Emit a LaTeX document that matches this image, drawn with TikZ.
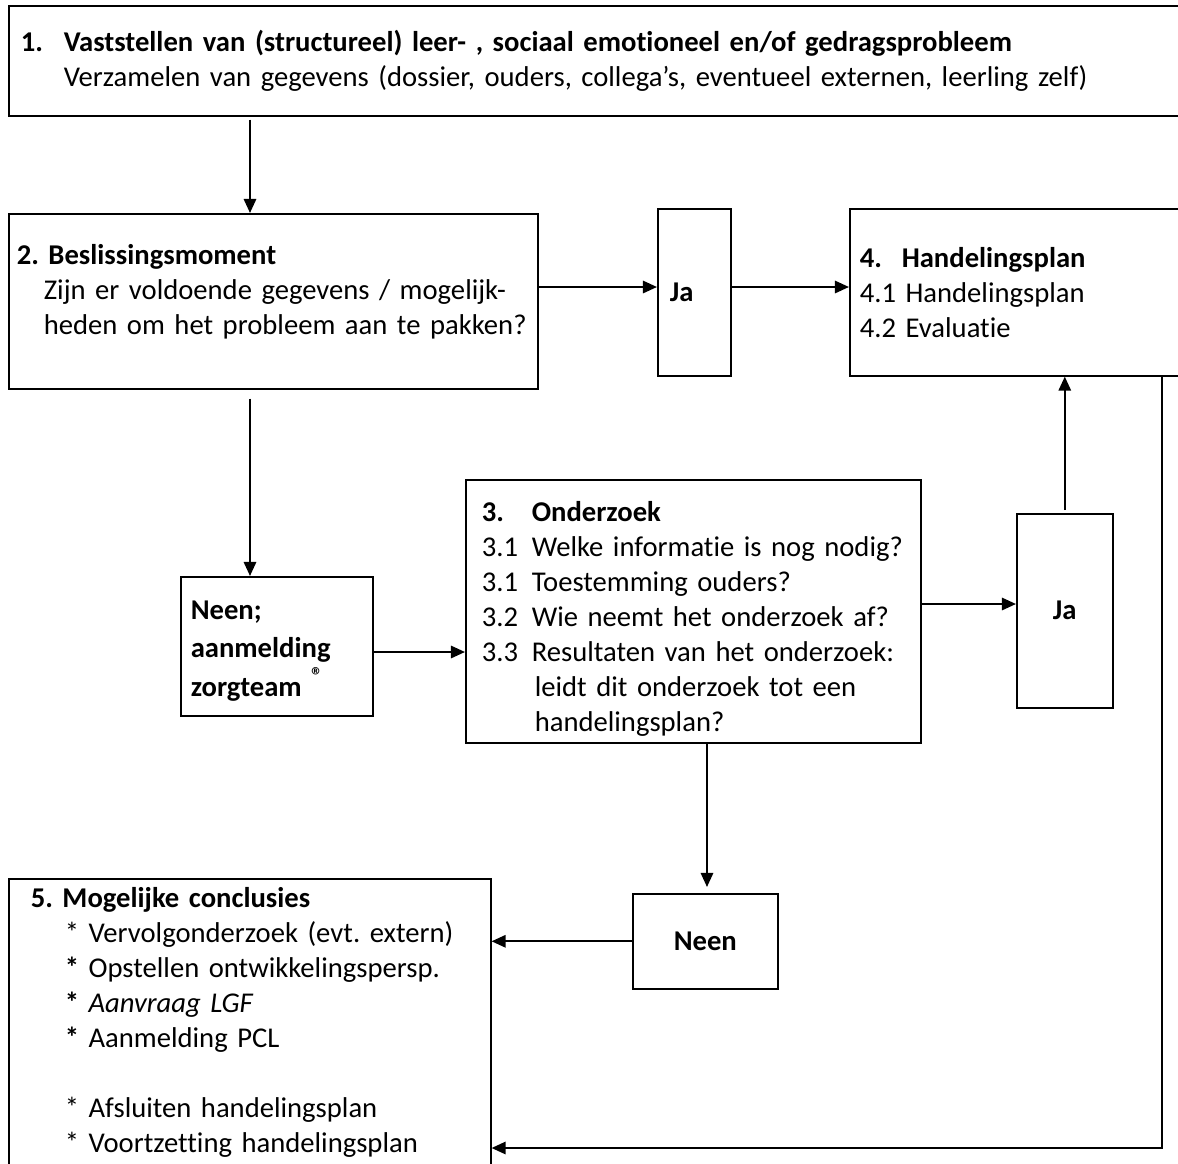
\documentclass[tikz,border=0pt]{standalone}
\usepackage{fontspec}
\setmainfont{Carlito}[Ligatures=NoCommon]
\usetikzlibrary{arrows.meta,positioning,calc}
\newlength\pxu
\setlength\pxu{0.02cm}
\newcommand{\flowfont}{\fontsize{16.3}{19.9}\selectfont\frenchspacing}
\tikzset{
  flow/base/.style={draw=black, line width=0.9pt, anchor=north west,
    inner ysep=0pt, font=\flowfont, align=left},
  flow/box/.style={flow/base},
  flow/answer/.style={flow/base, font=\flowfont\bfseries},
  flow/arrow/.style={-{Triangle[length=8pt,width=7pt]}, draw=black,
    line width=1.2pt},
}

\begin{document}
\begin{tikzpicture}[x=0.02cm, y=-0.02cm]
\useasboundingbox (0,0) rectangle (1178,1164);
\clip (0,0) rectangle (1178,1164);

% boxes, placed by their top left corner (pixel grid, y down)
\node[flow/box, minimum width=1192\pxu, minimum height=110\pxu,
  inner xsep=12\pxu, text width=1168\pxu] (vaststellen) at (8,5)
  {\mbox{\textbf{\makebox[43\pxu][l]{1.}Vaststellen van (structureel) leer- , sociaal emotioneel en/of gedragsprobleem}}\\
   \mbox{\hspace*{43\pxu}Verzamelen van gegevens (dossier, ouders, collega’s, eventueel externen, leerling zelf)}};

\node[flow/box, minimum width=529\pxu, minimum height=175\pxu,
  inner xsep=8\pxu, text width=513\pxu] (beslissing) at (8,213)
  {\mbox{\textbf{2. Beslissingsmoment}}\\
   \mbox{\hspace*{27\pxu}Zijn er voldoende gegevens / mogelijk-}\\
   \mbox{\hspace*{27\pxu}heden om het probleem aan te pakken?\rule[-23\pxu]{0pt}{23\pxu}}};

\node[flow/answer, minimum width=73\pxu, minimum height=167\pxu,
  inner xsep=12\pxu, text width=49\pxu] (jaEen) at (657,208) {Ja};

\node[flow/box, minimum width=351\pxu, minimum height=167\pxu,
  inner xsep=10\pxu, text width=331\pxu] (handeling) at (849,208)
  {\mbox{\textbf{\makebox[42\pxu][l]{4.}Handelingsplan}}\\
   \mbox{4.1 Handelingsplan}\\
   \mbox{4.2 Evaluatie}};

\node[flow/answer, minimum width=192\pxu, minimum height=139\pxu,
  inner xsep=10\pxu, text width=172\pxu,
  font=\fontsize{16.3}{21.9}\selectfont\bfseries] (aanmelding) at (180,576)
  {\rule{0pt}{28\pxu}Neen;\\aanmelding\\\mbox{zorgteam \raisebox{0.45em}{\fontsize{13}{13}\selectfont ®}}};

\node[flow/box, minimum width=455\pxu, minimum height=263\pxu,
  inner xsep=10\pxu, text width=435\pxu] (onderzoek) at (465,479)
  {\mbox{\hspace*{6\pxu}\rule{0pt}{36\pxu}\textbf{\makebox[50\pxu][l]{3.}Onderzoek}}\\
   \mbox{\hspace*{6\pxu}\makebox[50\pxu][l]{3.1}Welke informatie is nog nodig?}\\
   \mbox{\hspace*{6\pxu}\makebox[50\pxu][l]{3.1}Toestemming ouders?}\\
   \mbox{\hspace*{6\pxu}\makebox[50\pxu][l]{3.2}Wie neemt het onderzoek af?}\\
   \mbox{\hspace*{6\pxu}\makebox[50\pxu][l]{3.3}Resultaten van het onderzoek:}\\
   \mbox{\hspace*{59\pxu}leidt dit onderzoek tot een}\\
   \mbox{\hspace*{59\pxu}handelingsplan?}};

\node[flow/answer, minimum width=96\pxu, minimum height=194\pxu] (jaTwee)
  at (1016,513) {Ja};

\node[flow/answer, minimum width=145\pxu, minimum height=95\pxu] (neenTwee)
  at (632,893) {Neen};

\node[flow/box, minimum width=482\pxu, minimum height=287\pxu,
  inner xsep=10\pxu, text width=462\pxu] (conclusies) at (8,878)
  {\mbox{\hspace*{12\pxu}\textbf{5. Mogelijke conclusies}}\\
   \mbox{\hspace*{46\pxu}* Vervolgonderzoek (evt. extern)}\\
   \mbox{\hspace*{46\pxu}\textbf{*} Opstellen ontwikkelingspersp.}\\
   \mbox{\hspace*{46\pxu}\textbf{*} \textit{Aanvraag LGF}}\\
   \mbox{\hspace*{46\pxu}\textbf{*} Aanmelding PCL}\\
   \mbox{}\\
   \mbox{\hspace*{46\pxu}* Afsluiten handelingsplan}\\
   \mbox{\hspace*{46\pxu}* Voortzetting handelingsplan}};

% connectors
\coordinate (colA) at (250,0);
\coordinate (colN) at (707,0);
\coordinate (rowJa) at (0,287);
\coordinate (rowJb) at (0,604);
\coordinate (rowZorg) at (0,652);
\coordinate (loop) at (1162,1148);

\draw[flow/arrow, shorten <=3\pxu] (vaststellen.south -| colA) -- (beslissing.north -| colA);
\draw[flow/arrow, shorten <=9\pxu] (beslissing.south -| colA) -- (aanmelding.north -| colA);
\draw[flow/arrow] (beslissing.east |- rowJa) -- (jaEen.west |- rowJa);
\draw[flow/arrow] (jaEen.east |- rowJa) -- (handeling.west |- rowJa);
\draw[flow/arrow] (aanmelding.east |- rowZorg) -- (onderzoek.west |- rowZorg);
\draw[flow/arrow] (onderzoek.east |- rowJb) -- (jaTwee.west |- rowJb);
\draw[flow/arrow, shorten <=3\pxu] (jaTwee.north) -- (handeling.south -| jaTwee.north);
\draw[flow/arrow, shorten >=6\pxu] (onderzoek.south -| colN) -- (neenTwee.north -| colN);
\draw[flow/arrow] (neenTwee.west) -- (conclusies.east |- neenTwee.west);
\draw[flow/arrow] (handeling.south -| loop) |- (conclusies.east |- loop);
\end{tikzpicture}
\end{document}
